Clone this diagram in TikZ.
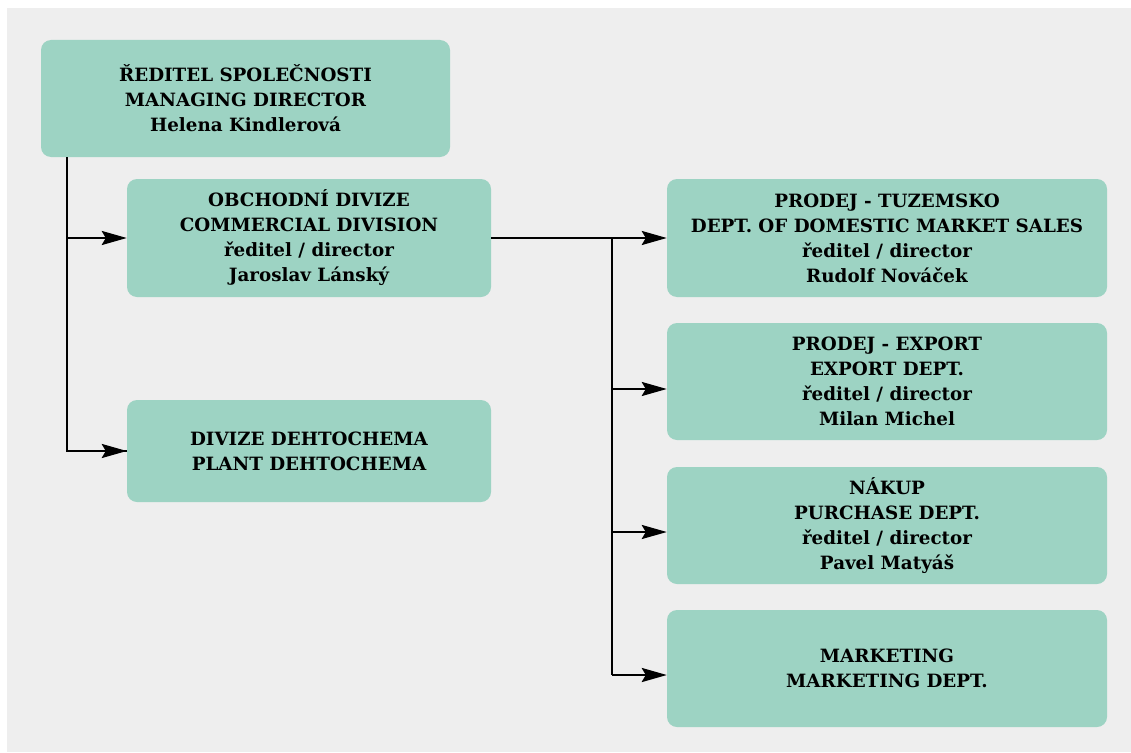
\documentclass[tikz,border=0pt]{standalone}
\usepackage{fontspec}
\setmainfont{DejaVu Serif}
\usetikzlibrary{arrows.meta,calc}
\definecolor{boxfill}{HTML}{9DD3C3}
\definecolor{bggrey}{HTML}{EEEEEE}
\tikzset{
  orgbox/.style={fill=boxfill, rounded corners=10pt, draw=none, align=center,
    inner sep=0pt, font=\bfseries\fontsize{18.3}{25}\selectfont},
  link/.style={line width=2.6pt, black},
  arrowlink/.style={link, -{Stealth[length=25pt,width=14pt,inset=4pt]}}
}
\begin{document}
\begin{tikzpicture}[x=1pt,y=-1pt]
\useasboundingbox (0,0) rectangle (1131,752);
\fill[white] (0,0) rectangle (1131,752);
\fill[bggrey] (7,8) rectangle (1131,752);

\node[orgbox, minimum width=409pt, minimum height=117pt] (dir) at (245.5,98.5)
  {ŘEDITEL SPOLEČNOSTI\\MANAGING DIRECTOR\\Helena Kindlerová};
\node[orgbox, minimum width=364pt, minimum height=118pt] (com) at (309,238)
  {OBCHODNÍ DIVIZE\\COMMERCIAL DIVISION\\ředitel / director\\Jaroslav Lánský};
\node[orgbox, minimum width=364pt, minimum height=102pt] (deh) at (309,451)
  {DIVIZE DEHTOCHEMA\\PLANT DEHTOCHEMA};
\node[orgbox, minimum width=440pt, minimum height=118pt] (dom) at (887,238)
  {PRODEJ - TUZEMSKO\\DEPT. OF DOMESTIC MARKET SALES\\ředitel / director\\Rudolf Nováček};
\node[orgbox, minimum width=440pt, minimum height=117pt] (exp) at (887,381.5)
  {PRODEJ - EXPORT\\EXPORT DEPT.\\ředitel / director\\Milan Michel};
\node[orgbox, minimum width=440pt, minimum height=117pt] (nak) at (887,525.5)
  {NÁKUP\\PURCHASE DEPT.\\ředitel / director\\Pavel Matyáš};
\node[orgbox, minimum width=440pt, minimum height=117pt] (mkt) at (887,668.5)
  {MARKETING\\MARKETING DEPT.};

% left trunk
\coordinate (t0) at ([xshift=26pt]dir.south west);
\draw[link] (t0) -- (t0 |- deh.west) -- (deh.west);
\draw[arrowlink] (t0 |- com.west) -- (com.west);
\draw[arrowlink] (t0 |- deh.west) -- (deh.west);

% right trunk
\coordinate (j) at (612,238);
\coordinate (ae) at ($(exp.west)+(0,7.5)$);
\coordinate (an) at ($(nak.west)+(0,6.5)$);
\coordinate (am) at ($(mkt.west)+(0,6.5)$);
\draw[arrowlink] (com.east) -- (dom.west);
\draw[link] (j) -- (j |- am);
\draw[arrowlink] (j |- ae) -- (ae);
\draw[arrowlink] (j |- an) -- (an);
\draw[arrowlink] (j |- am) -- (am);
\end{tikzpicture}
\end{document}
